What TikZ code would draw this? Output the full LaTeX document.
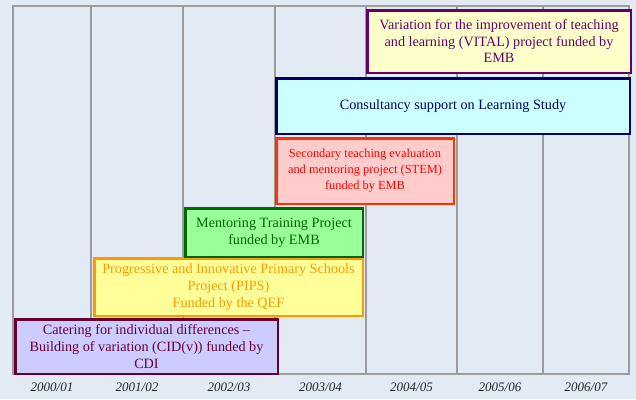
\documentclass[tikz,border=0pt]{standalone}
\usepackage{fontspec}
\setmainfont{Liberation Serif}
\usepackage{xcolor}
\usepackage{tikz}
\definecolor{tlBack}{HTML}{E2EAF4}
\definecolor{tlGrid}{HTML}{9C9C9C}
\definecolor{cidLine}{HTML}{660033}
\definecolor{cidBg}{HTML}{CCCCFF}
\definecolor{pipsLine}{HTML}{FF9900}
\definecolor{pipsBg}{HTML}{FFFF99}
\definecolor{mtpLine}{HTML}{006600}
\definecolor{mtpBg}{HTML}{99FF99}
\definecolor{stemLine}{HTML}{FF3300}
\definecolor{stemText}{HTML}{FF0000}
\definecolor{stemBg}{HTML}{FFCCCC}
\definecolor{lsLine}{HTML}{000066}
\definecolor{lsBg}{HTML}{CCFFFF}
\definecolor{vitalLine}{HTML}{660066}
\definecolor{vitalBg}{HTML}{FFFFCC}
\tikzset{
  project/.style={rectangle,line width=2.5pt,align=center,inner sep=2pt,
    font=\fontsize{14.2}{17}\selectfont},
  cidbox/.style={project,draw=cidLine,fill=cidBg,text=cidLine},
  pipsbox/.style={project,draw=pipsLine,fill=pipsBg,text=pipsLine},
  mtpbox/.style={project,draw=mtpLine,fill=mtpBg,text=mtpLine},
  stembox/.style={project,draw=stemLine,fill=stemBg,text=stemText,
    font=\fontsize{12.4}{16}\selectfont},
  lsbox/.style={project,draw=lsLine,fill=lsBg,text=lsLine},
  vitalbox/.style={project,draw=vitalLine,fill=vitalBg,text=vitalLine,
    font=\fontsize{14.2}{16.5}\selectfont},
  gridline/.style={draw=tlGrid,line width=1.2pt},
  yearlabel/.style={font=\fontsize{13}{15}\selectfont\itshape,text=black!85}
}

\begin{document}
\begin{tikzpicture}[x=1pt,y=-1pt]
\fill[tlBack] (0,0) rectangle (636,399);
\useasboundingbox (0,0) rectangle (636,399);
% school year columns
\draw[gridline] (13,6) rectangle (629,374);
\foreach \xa/\xb/\ya/\yb [count=\i] in {13/91/2000/01,91/183/2001/02,183/275/2002/03,
    275/366/2003/04,366/457/2004/05,457/543/2005/06,543/629/2006/07}{
  \draw[gridline] (\xb,6) -- (\xb,374);
  \node[yearlabel] (yr\i) at ({(\xa+\xb)/2},387) {\ya/\yb};
}
% projects
\node[cidbox, minimum width=262.5pt, minimum height=54.5pt] (cid) at (146.5,346.5)
  {Catering for individual differences --\\Building of variation (CID(v)) funded by\\CDI};
\node[pipsbox, minimum width=268.5pt, minimum height=57.5pt] (pips) at (228.5,287)
  {Progressive and Innovative Primary Schools\\Project (PIPS)\\Funded by the QEF};
\node[mtpbox, minimum width=177.5pt, minimum height=48.5pt] (mtp) at (274,232.5)
  {Mentoring Training Project\\funded by EMB};
\node[stembox, minimum width=177.5pt, minimum height=65.5pt] (stem) at (365,171)
  {Secondary teaching evaluation\\and mentoring project (STEM)\\funded by EMB};
\node[lsbox, minimum width=353.5pt, minimum height=55.5pt] (ls) at (453,106)
  {Consultancy support on Learning Study};
\node[vitalbox, minimum width=263.5pt, minimum height=62.5pt] (vital) at (499,41.5)
  {Variation for the improvement of teaching\\and learning (VITAL) project funded by\\EMB};
\end{tikzpicture}
\end{document}
